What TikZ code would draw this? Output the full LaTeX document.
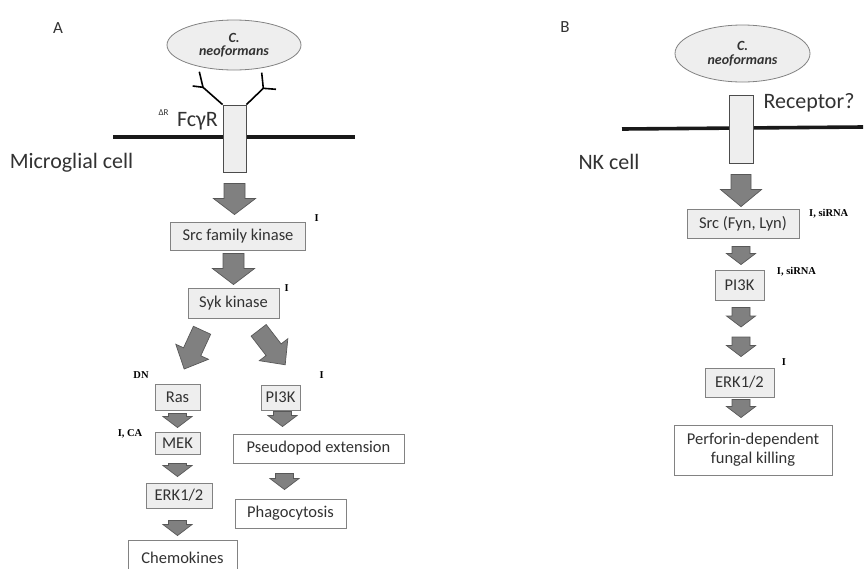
\documentclass[tikz,border=0pt]{standalone}
\usepackage{fontspec}
\setmainfont{Carlito}
\newfontfamily\notefont{Liberation Serif}
\usetikzlibrary{calc}
\usetikzlibrary{shapes.geometric}

\definecolor{boxgray}{RGB}{238,238,238}
\definecolor{edgegray}{RGB}{130,130,130}
\definecolor{arrowgray}{RGB}{128,128,128}
\definecolor{arrowedge}{RGB}{88,88,88}
\definecolor{txtgray}{RGB}{50,50,50}

\tikzset{
  blk stem/.store in=\blkstem,
  blk head/.store in=\blkhead,
  blk len/.store in=\blklen,
  blk from/.store in=\blkfrom,
  blk to/.store in=\blkto,
  blk stem=10.5pt, blk head=21pt, blk len=16pt, blk from=0pt, blk to=0pt,
  blk/.style={draw=arrowedge, fill=arrowgray, line width=0.7pt, line join=miter,
    to path={let \p1=(\tikztostart), \p2=(\tikztotarget),
      \n1={atan2(\y2-\y1,\x2-\x1)} in
      ($(\p1)+(\n1:\blkfrom)+(\n1+90:\blkstem)$)
      -- ($(\p2)+(\n1:-\blkto-\blklen)+(\n1+90:\blkstem)$)
      -- ($(\p2)+(\n1:-\blkto-\blklen)+(\n1+90:\blkhead)$)
      -- ($(\p2)+(\n1:-\blkto)$)
      -- ($(\p2)+(\n1:-\blkto-\blklen)+(\n1-90:\blkhead)$)
      -- ($(\p2)+(\n1:-\blkto-\blklen)+(\n1-90:\blkstem)$)
      -- ($(\p1)+(\n1:\blkfrom)+(\n1-90:\blkstem)$) -- cycle}},
  small blk/.style={blk, blk stem=9pt, blk head=14.5pt, blk len=11pt},
  tilt blk/.style={blk, blk stem=9.5pt, blk head=18pt, blk len=19pt},
  stepbox/.style={draw=edgegray, fill=boxgray, line width=0.9pt, inner sep=0pt,
    text=txtgray, font=\fontsize{16.5}{18}\selectfont},
  endbox/.style={stepbox, fill=white},
  fungus/.style={ellipse, draw=edgegray, fill=boxgray, line width=0.8pt, inner sep=0pt,
    align=center, text=txtgray, font=\fontsize{14}{15}\selectfont\bfseries\itshape},
  receptor/.style={draw=black!70, fill=boxgray, line width=0.8pt, inner sep=0pt},
  membrane/.style={line width=3.6pt, black!90},
  celltext/.style={text=txtgray, font=\fontsize{22}{24}\selectfont, inner sep=0pt},
  note/.style={font=\notefont\bfseries\fontsize{10.5}{12}\selectfont, inner sep=0pt}
}

\begin{document}
\begin{tikzpicture}[x=1pt, y=-1pt]
    \useasboundingbox (0,0) rectangle (866,568);

    % panel A
    \node[celltext, font=\fontsize{17}{19}\selectfont] (labA) at (58,28) {A};
    \node[fungus, minimum width=134, minimum height=50] (fungA) at (234,45) {C.\\[-2pt]neoformans};
    \draw[membrane] (113,137) -- (355,137);
    \node[receptor, minimum width=23, minimum height=67] (recA) at (234.5,138.5) {};
    \coordinate (abL) at (203,87.3);
    \coordinate (abR) at (263.3,88.3);
    \draw[line width=1.6pt] (recA.north west) -- (abL) -- (199.3,71.7);
    \draw[line width=1.6pt] (abL) -- (192.7,86);
    \draw[line width=1.6pt] (recA.north east) -- (abR) -- (261.7,72.7);
    \draw[line width=1.6pt] (abR) -- (276,89.3);
    \node[text=txtgray, font=\fontsize{9}{10}\selectfont, inner sep=0pt] (dR) at (163.5,113) {ΔR};
    \node[celltext] (fcr) at (197.5,121) {FcγR};
    \node[celltext] (micro) at (71.5,163) {Microglial cell};

    \node[stepbox, minimum width=135, minimum height=28] (src) at (238,236) {Src family kinase};
    \node[stepbox, minimum width=91, minimum height=30] (syk) at (233.5,303) {Syk kinase};
    \node[stepbox, minimum width=45, minimum height=26] (ras) at (177.5,397) {Ras};
    \node[stepbox, minimum width=39, minimum height=25] (pikA) at (280.5,397.5) {PI3K};
    \node[stepbox, minimum width=45, minimum height=22] (mek) at (177.5,443) {MEK};
    \node[endbox, minimum width=171, minimum height=29] (pseudo) at (318.5,448.5) {Pseudopod extension};
    \node[stepbox, minimum width=66, minimum height=25] (erkA) at (179,495.5) {ERK1/2};
    \node[endbox, minimum width=111, minimum height=29] (phago) at (290.5,513.5) {Phagocytosis};
    \node[endbox, minimum width=109, minimum height=36] (chemo) at (182.5,558) {Chemokines};

    \node[note] (nSrc) at (316.7,218.3) {I};
    \node[note] (nSyk) at (286.7,288.3) {I};
    \node[note] (nPikA) at (321.7,375) {I};
    \node[note] (nRas) at (141,375) {DN};
    \node[note] (nMek) at (130,434) {I, CA};

    \draw[blk, blk from=11pt, blk to=7pt] (recA.south) to (recA.south |- src.north);
    \draw[blk, blk from=3pt, blk to=3pt] (syk.north |- src.south) to (syk.north);
    \draw[tilt blk, blk from=13pt, blk to=16pt] ([xshift=-26pt]syk.south) to (ras.north);
    \draw[tilt blk, blk from=15pt, blk to=25pt] ([xshift=16pt]syk.south) to (pikA.north east);
    \draw[small blk, blk from=3pt, blk to=4pt] (ras.south) to (mek.north);
    \draw[small blk, blk from=9pt, blk to=6pt] (mek.south) to (mek.south |- erkA.north);
    \draw[small blk, blk from=12pt, blk to=4pt] (mek.south |- erkA.south) to (mek.south |- chemo.north);
    \draw[small blk, blk from=1pt, blk to=7pt] ([xshift=2pt]pikA.south) to ([xshift=2pt]pikA.south |- pseudo.north);
    \draw[small blk, blk from=10pt, blk to=9pt] ($(pseudo.south -| pikA.south)+(4,0)$) to ($(phago.north -| pikA.south)+(4,0)$);

    % panel B
    \node[celltext, font=\fontsize{17}{19}\selectfont] (labB) at (565,27) {B};
    \node[fungus, minimum width=135, minimum height=57] (fungB) at (742.5,53.5) {C.\\[-1pt]neoformans};
    \draw[membrane] (622,129) -- (863,127);
    \node[receptor, minimum width=24, minimum height=68] (recB) at (741,129) {};
    \node[celltext] (recq) at (809,103) {Receptor?};
    \node[celltext] (nk) at (609,162) {NK cell};

    \node[stepbox, minimum width=112, minimum height=29] (srcB) at (743,223.5) {Src (Fyn, Lyn)};
    \node[stepbox, minimum width=49, minimum height=30] (pikB) at (739.5,285) {PI3K};
    \coordinate (midB) at (741,332);
    \node[stepbox, minimum width=69, minimum height=29] (erkB) at (739.5,382.5) {ERK1/2};
    \node[endbox, minimum width=158, minimum height=50, align=center] (perf) at (753,450)
        {Perforin-dependent\\[1pt]fungal killing};

    \node[note] (nSrcB) at (828.7,214) {I, siRNA};
    \node[note] (nPikB) at (796.5,271.7) {I, siRNA};
    \node[note] (nErkB) at (784,361.7) {I};

    \draw[blk, blk stem=10pt, blk head=20.5pt, blk len=17pt, blk from=11pt, blk to=2pt] (recB.south) to (recB.south |- srcB.north);
    \draw[small blk, blk from=8pt, blk to=5pt] (midB |- srcB.south) to (midB |- pikB.north);
    \draw[small blk, blk from=7pt, blk to=5pt] (midB |- pikB.south) to (midB);
    \draw[small blk, blk from=5pt, blk to=11pt] (midB) to (midB |- erkB.north);
    \draw[small blk, blk from=2pt, blk to=7pt] (midB |- erkB.south) to (midB |- perf.north);
\end{tikzpicture}
\end{document}
